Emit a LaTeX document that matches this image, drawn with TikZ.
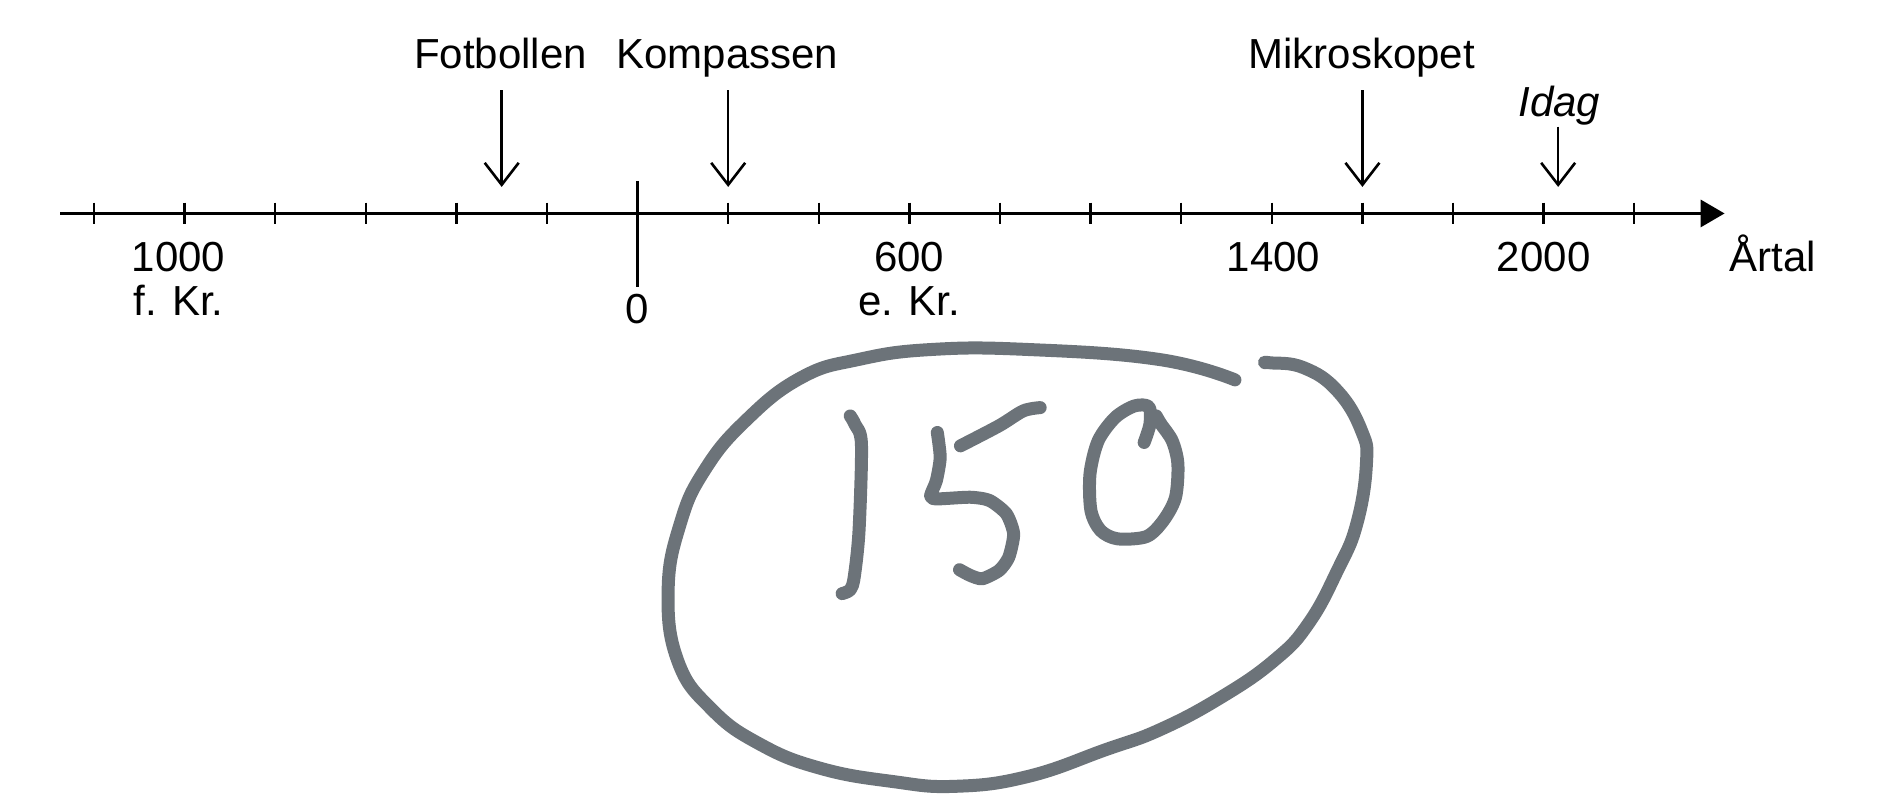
\documentclass[tikz,border=0pt]{standalone}
\usepackage{fontspec}
\setmainfont{Liberation Sans}
\usetikzlibrary{arrows.meta}
\definecolor{pencol}{RGB}{108,115,121}
\begin{document}
\begin{tikzpicture}[x=0.6031pt,y=-0.6031pt,
  lbl/.style={font=\fontsize{21}{25}\selectfont, anchor=base, inner sep=0pt},
  axisline/.style={line width=1.7pt, -{Triangle[length=12pt,width=13.5pt]}},
  tickmark/.style={line width=1.2pt},
  pointer/.style={line width=1.3pt, -{Straight Barb[length=11pt,width=17pt]}},
  penstroke/.style={draw=pencol, line width=6.5pt, line cap=round, line join=round}]
\useasboundingbox (0,0) rectangle (1568,663);
% axis
\coordinate (axstart) at (50,177);
\coordinate (axend) at (1430,177);
\draw[axisline] (axstart) -- (axend);
\foreach \i in {0,...,17}{
  \draw[tickmark] ({78+75.12*\i},168) -- ({78+75.12*\i},186);
}
\coordinate (zt) at (528.7,150);
\coordinate (zb) at (528.7,238);
\draw[tickmark] (zt) -- (zb);
% axis labels
\node[lbl] (l1000) at (148,225) {1000};
\node[lbl] (lfk) at (148,262) {f. Kr.};
\node[lbl] (l0) at (528,268) {0};
\node[lbl] (l600) at (754,225) {600};
\node[lbl] (lek) at (754,262) {e. Kr.};
\node[lbl] (l1400) at (1056,225) {1400};
\node[lbl] (l2000) at (1280,225) {2000};
\node[lbl] (lartal) at (1470,225) {Årtal};
% event labels
\node[lbl] (fot) at (415,57) {Fotbollen};
\node[lbl] (kom) at (603,57) {Kompassen};
\node[lbl] (mik) at (1129,57) {Mikroskopet};
\node[lbl,font=\fontsize{21}{25}\selectfont\itshape] (idag) at (1293,97) {Idag};
% pointers
\coordinate (fa) at (416,75);  \coordinate (fb) at (416,155);
\coordinate (ka) at (603.8,75); \coordinate (kb) at (603.8,155);
\coordinate (ma) at (1129.7,75); \coordinate (mb) at (1129.7,155);
\coordinate (ia) at (1292,105); \coordinate (ib) at (1292,155);
\draw[pointer] (fa) -- (fb);
\draw[pointer] (ka) -- (kb);
\draw[pointer] (ma) -- (mb);
\draw[pointer] (ia) -- (ib);
% handwritten circle
\draw[penstroke] plot[smooth,tension=0.75] coordinates {
 (1024,315) (960.7,298) (852.5,289.8) (772.4,289.8) (712.3,298) (664.2,313.2)
 (618.1,349) (584,390.3) (564,434.4) (554,489.5) (562,548) (590,588)
 (630,617) (680,637) (740,648) (792.4,652) (852.5,643.8) (916.6,621.7)
 (962,605) (1012.8,578) (1056.9,547.3) (1085,517) (1109,473) (1125,434.4)
 (1133,384.8) (1129,357.3) (1109,324.2) (1081,304.9) (1053,300.8) (1049,300.8)};
% digit 1
\draw[penstroke] plot[smooth,tension=0.5] coordinates {
 (705,344.9) (709,352) (714.3,368.3) (712.3,439.9) (708.3,478.5) (705,489) (698.3,492.2)};
% digit 5
\draw[penstroke] plot[smooth,tension=0.4] coordinates {
 (777.2,358.6) (779.6,379.3) (776.4,398.6) (771.6,411) (776.4,413.7) (804.4,412.3)
 (820.5,415) (834.5,426.1) (840.5,442.7) (836.5,462) (828.5,473) (814.5,479.9)
 (804.4,477.1) (795.6,472.4)};
\draw[penstroke] plot[smooth,tension=0.5] coordinates {
 (796.4,369.7) (828.5,353) (848.5,340.7) (862.5,338)};
% digit 0
\draw[penstroke] plot[smooth,tension=0.5] coordinates {
 (948.7,366.9) (953.5,351.7) (952.7,337.4) (940.7,336.6) (924.7,346.2) (910.6,365.5)
 (903.8,393.1) (904.6,423.4) (912.6,439.9) (926.7,446.8) (950.7,444.9) (964.7,431.6)
 (974.7,412.4) (976.7,384.8) (972,365.5) (962.7,351.7) (958.7,344.9)};
\end{tikzpicture}
\end{document}
